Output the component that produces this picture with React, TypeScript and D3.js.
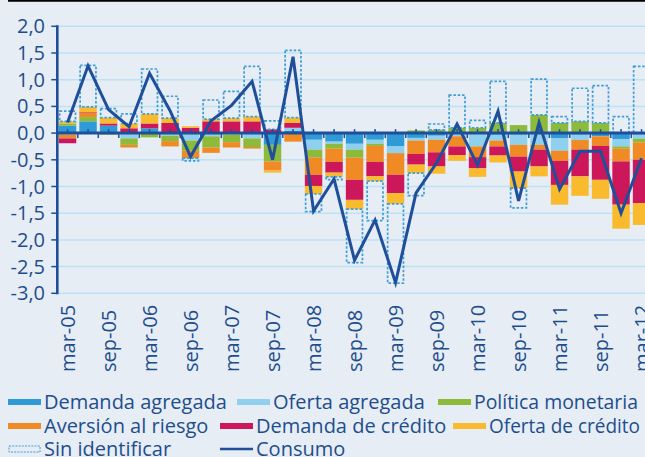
import React from 'react'
import * as d3 from 'd3'

const quarters = [
  'mar-05', 'jun-05', 'sep-05', 'dic-05', 'mar-06', 'jun-06', 'sep-06', 'dic-06',
  'mar-07', 'jun-07', 'sep-07', 'dic-07', 'mar-08', 'jun-08', 'sep-08', 'dic-08',
  'mar-09', 'jun-09', 'sep-09', 'dic-09', 'mar-10', 'jun-10', 'sep-10', 'dic-10',
  'mar-11', 'jun-11', 'sep-11', 'dic-11', 'mar-12',
]

const demandaAgregada = [0.14, 0.22, 0.14, 0, 0.09, 0.02, 0, 0, 0, 0, -0.22, 0.04, -0.125, -0.16, -0.2, -0.125, -0.25, -0.09, -0.05, -0.02, -0.02, -0.03, -0.03, 0, -0.1, -0.03, -0.06, -0.11, -0.03]
const ofertaAgregada = [-0.03, 0, 0, -0.1, 0, -0.05, -0.14, -0.06, -0.03, -0.1, 0, 0.06, -0.185, -0.04, -0.11, -0.075, -0.125, -0.05, -0.075, -0.04, -0.23, -0.11, -0.19, -0.22, -0.23, -0.1, 0, -0.14, -0.075]
const politicaMonetaria = [0.04, 0.08, -0.03, -0.12, -0.08, -0.1, -0.19, -0.21, -0.14, -0.16, -0.31, 0, -0.15, -0.09, -0.15, -0.04, 0, 0.05, 0.06, 0.1, 0.1, 0.19, 0.15, 0.34, 0.19, 0.22, 0.19, -0.04, -0.07]
const aversionRiesgo = [-0.07, 0.075, 0, -0.05, 0, -0.1, -0.14, -0.1, -0.1, -0.03, -0.17, -0.16, -0.32, -0.25, -0.415, -0.3, -0.405, -0.25, -0.235, -0.19, -0.2, -0.11, -0.22, -0.09, -0.19, -0.18, -0.18, -0.24, -0.325]
const demandaCredito = [-0.09, 0.015, 0.04, 0.09, 0.09, 0.17, 0.1, 0.22, 0.22, 0.22, 0.07, 0.09, -0.21, -0.2, -0.375, -0.27, -0.345, -0.2, -0.265, -0.16, -0.21, -0.17, -0.28, -0.315, -0.45, -0.5, -0.635, -0.81, -0.81]
const ofertaCredito = [0.04, 0.1, 0.11, 0.09, 0.18, 0.09, 0.03, 0.04, 0.06, 0.09, -0.04, 0.1, -0.15, -0.08, -0.175, -0.09, -0.2, -0.16, -0.135, -0.11, -0.16, -0.13, -0.31, -0.185, -0.37, -0.365, -0.355, -0.45, -0.41]
const sinIdentificar = [0.19, 0.78, 0.17, 0.18, 0.84, 0.41, -0.05, 0.36, 0.5, 0.94, 0.16, 1.26, -0.33, -0.05, -1.0, -0.74, -1.485, -0.42, 0.11, 0.61, 0.14, 0.78, -0.37, 0.67, 0.12, 0.62, 0.7, 0.31, 1.25]
const consumo = [0.2, 1.26, 0.44, 0.12, 1.12, 0.42, -0.44, 0.23, 0.52, 0.97, -0.5, 1.43, -1.46, -0.86, -2.38, -1.63, -2.8, -1.12, -0.56, 0.17, -0.6, 0.41, -1.27, 0.2, -1.05, -0.34, -0.34, -1.5, -0.47]

const yTicks = [2, 1.5, 1, 0.5, 0, -0.5, -1, -1.5, -2, -2.5, -3]

const seriesKeys = ['da', 'oa', 'pm', 'ar', 'dc', 'oc', 'si']
const seriesNames = ['Demanda agregada', 'Oferta agregada', 'Política monetaria', 'Aversión al riesgo', 'Demanda de crédito', 'Oferta de crédito', 'Sin identificar']
const seriesColors = ['#2f9ad5', '#8fd0ef', '#8cbb3b', '#ef8a25', '#cc175a', '#f9bb2d', 'none']

const W = 645
const H = 457
const textColor = '#1f4d8c'
const lineColor = '#1f4f9a'
const font = '"Open Sans", sans-serif'

export default function App() {
  const rows = quarters.map((q, i) => ({
    q,
    da: demandaAgregada[i],
    oa: ofertaAgregada[i],
    pm: politicaMonetaria[i],
    ar: aversionRiesgo[i],
    dc: demandaCredito[i],
    oc: ofertaCredito[i],
    si: sinIdentificar[i],
  }))

  const stacked = d3.stack<any>().keys(seriesKeys).offset(d3.stackOffsetDiverging)(rows)

  const x = d3.scaleBand().domain(quarters).range([57.3, 651.8]).paddingInner(0.15).paddingOuter(0.075)
  const y = d3.scaleLinear().domain([-3, 2]).range([293.3, 26.3])
  const axisX = 57.3

  const line = d3.line<number>()
    .x((_, i) => (x(quarters[i]) || 0) + x.bandwidth() / 2)
    .y(d => y(d))

  // legend slots; len = squeeze for the long labels
  const legend = [
    { k: 0, x: 8, y: 402 }, { k: 1, x: 237, y: 402 }, { k: 2, x: 438, y: 402, len: 164 },
    { k: 3, x: 8, y: 426 }, { k: 4, x: 220, y: 426 }, { k: 5, x: 453, y: 426, len: 151 },
    { k: 6, x: 8, y: 449 }, { k: 7, x: 220, y: 449 },
  ]

  return (
    <div style={{ position: 'absolute', left: 0, top: 0 }}>
      <svg width={W} height={H} style={{ display: 'block', background: '#e6edf5' }} fontFamily={font}>
        <rect x={0} y={0} width={W} height={H} fill="#e6edf5" />
        <line x1={8} x2={W} y1={0.8} y2={0.8} stroke="#000" strokeWidth={1.8} />

        {/* grid */}
        {yTicks.filter(t => t !== 0).map(t => (
          <line key={t} x1={axisX} x2={W} y1={y(t)} y2={y(t)} stroke="#bfe1f3" strokeWidth={1.5} />
        ))}

        {/* bars */}
        {stacked.map((s, si) => (
          <g key={s.key}>
            {s.map((d, i) => {
              const y0 = y(Math.max(d[0], d[1]))
              const y1 = y(Math.min(d[0], d[1]))
              if (y1 - y0 < 0.01) return null
              const bx = x(quarters[i]) || 0
              if (s.key === 'si') {
                return (
                  <rect key={i} x={bx + 0.8} y={y0} width={x.bandwidth() - 1.6} height={y1 - y0}
                    fill="none" stroke="#3f9dd7" strokeWidth={1.7} strokeDasharray="2.5,1.8" />
                )
              }
              return <rect key={i} x={bx} y={y0} width={x.bandwidth()} height={y1 - y0} fill={seriesColors[si]} />
            })}
          </g>
        ))}

        {/* zero line and ticks */}
        <line x1={axisX} x2={W} y1={y(0)} y2={y(0)} stroke={lineColor} strokeWidth={3} />
        {quarters.map((q, i) => (
          <g key={q}>
            <line x1={axisX + i * x.step()} x2={axisX + i * x.step()} y1={y(0)} y2={y(0) + 5} stroke={lineColor} strokeWidth={1.5} />
            <line x1={(x(q) || 0) + x.bandwidth() / 2} x2={(x(q) || 0) + x.bandwidth() / 2} y1={y(0)} y2={y(0) - 4} stroke={lineColor} strokeWidth={1.5} />
          </g>
        ))}

        {/* y axis */}
        <line x1={axisX} x2={axisX} y1={y(2) - 1} y2={y(-3) + 1} stroke={lineColor} strokeWidth={2.6} />
        {yTicks.map(t => (
          <g key={t}>
            <line x1={axisX - 6} x2={axisX} y1={y(t)} y2={y(t)} stroke={lineColor} strokeWidth={1.5} />
            <text x={45} y={y(t)} dy="0.35em" textAnchor="end" fontSize={20} fill={textColor}>
              {t.toFixed(1).replace('.', ',')}
            </text>
          </g>
        ))}

        {/* x labels */}
        {quarters.map((q, i) => i % 2 === 0 ? (
          <text key={q} transform={`translate(${(x(q) || 0) + x.bandwidth() / 2 + 7},372) rotate(-90)`}
            fontSize={20} fill={textColor}>{q}</text>
        ) : null)}

        {/* consumo */}
        <path d={line(consumo) || ''} fill="none" stroke={lineColor} strokeWidth={3} strokeLinejoin="miter" />

        {/* legend */}
        {legend.map(l => (
          <g key={l.k}>
            {l.k < 6 && <rect x={l.x} y={l.y - 3} width={33} height={6} fill={seriesColors[l.k]} />}
            {l.k === 6 && <rect x={l.x + 1} y={l.y - 3} width={31} height={6} fill="none" stroke="#3f9dd7" strokeWidth={1} strokeDasharray="2,1.2" />}
            {l.k === 7 && <line x1={l.x} x2={l.x + 33} y1={l.y} y2={l.y} stroke={lineColor} strokeWidth={2.5} />}
            <text x={l.x + 36} y={l.y + 7} fontSize={20} fill={textColor}
              textLength={l.len} lengthAdjust={l.len ? 'spacingAndGlyphs' : undefined}>
              {l.k < 7 ? seriesNames[l.k] : 'Consumo'}
            </text>
          </g>
        ))}
      </svg>
    </div>
  )
}
